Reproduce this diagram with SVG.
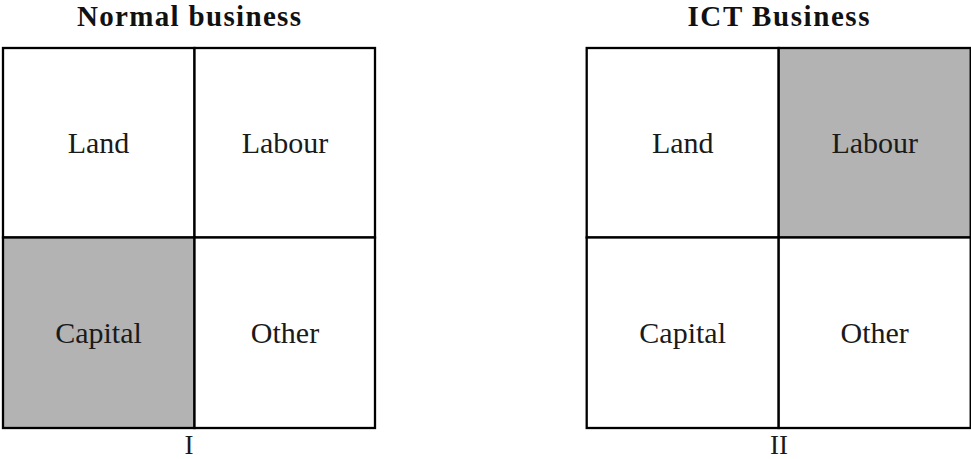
<svg xmlns="http://www.w3.org/2000/svg" width="971" height="459" viewBox="0 0 971 459">
<style>
.cell{fill:#ffffff;stroke:#000000;stroke-width:2.3}
.shade{fill:#b3b3b3;stroke:#000000;stroke-width:2.3}
.lbl{font-family:"Liberation Serif","Times New Roman",serif;font-size:30px;fill:#1a1a1a;text-anchor:middle}
.num{font-family:"Liberation Serif","Times New Roman",serif;font-size:27px;fill:#1a1a1a;text-anchor:middle}
.ttl{font-family:"Liberation Serif","Times New Roman",serif;font-size:29px;font-weight:bold;fill:#111111;text-anchor:middle}
</style>
<rect width="971" height="459" fill="#ffffff"/>
<g id="title-normal"><text class="ttl" x="189" y="26" textLength="224" lengthAdjust="spacing">Normal business</text></g>
<g id="title-ict"><text class="ttl" x="778.5" y="26" textLength="182" lengthAdjust="spacing">ICT Business</text></g>

<g id="normal-land"><rect class="cell" x="3" y="48" width="191.5" height="189.5"/><text class="lbl" x="98.5" y="153">Land</text></g>
<g id="normal-labour"><rect class="cell" x="194.5" y="48" width="180.5" height="189.5"/><text class="lbl" x="285" y="153">Labour</text></g>
<g id="normal-capital"><rect class="shade" x="3" y="237.5" width="191.5" height="190.5"/><text class="lbl" x="98.5" y="343">Capital</text></g>
<g id="normal-other"><rect class="cell" x="194.5" y="237.5" width="180.5" height="190.5"/><text class="lbl" x="285" y="343">Other</text></g>
<g id="label-I"><text class="num" x="189" y="454">I</text></g>

<g id="ict-land"><rect class="cell" x="586.7" y="48" width="192" height="189.5"/><text class="lbl" x="682.7" y="153">Land</text></g>
<g id="ict-labour"><rect class="shade" x="778.7" y="48" width="192" height="189.5"/><text class="lbl" x="874.7" y="153">Labour</text></g>
<g id="ict-capital"><rect class="cell" x="586.7" y="237.5" width="192" height="190.5"/><text class="lbl" x="682.7" y="343">Capital</text></g>
<g id="ict-other"><rect class="cell" x="778.7" y="237.5" width="192" height="190.5"/><text class="lbl" x="874.7" y="343">Other</text></g>
<g id="label-II"><text class="num" x="779" y="454">II</text></g>

<g id="connectors"></g>
</svg>
